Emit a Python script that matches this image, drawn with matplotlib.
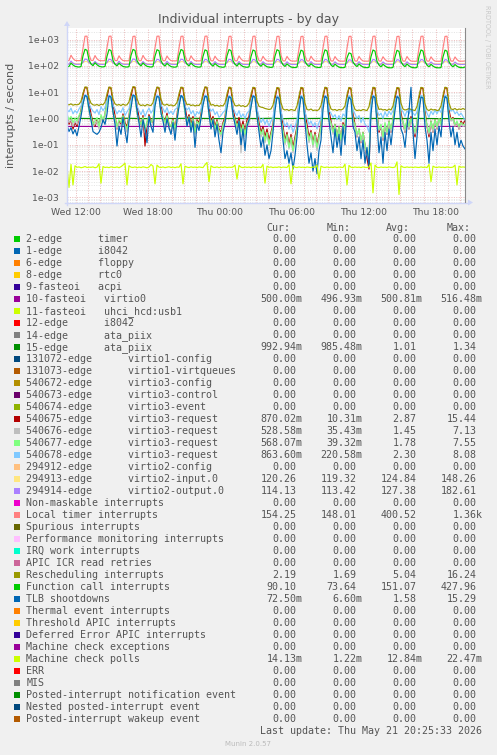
import numpy as np
import matplotlib
matplotlib.use("Agg")
import matplotlib.pyplot as plt
from matplotlib.patches import Rectangle, Polygon

# ---------------- data (10-minute samples from Wed 11:15) ----------------
STEP_H = 1.0 / 6.0          # 10 minutes in hours
HOUR_STEP = 1.0             # hourly samples for the flat series

LOCAL_TIMER = [
    160,158,252,190,161,158,157,160,470,1330,1340,270,
    162,159,245,185,160,157,156,158,500,1320,1350,260,
    160,157,240,183,158,156,155,157,450,1310,1340,255,
    158,156,248,186,158,156,155,157,480,1330,1345,265,
    158,155,236,182,157,155,154,156,470,1320,1340,250,
    157,155,240,183,157,155,154,156,490,1330,1350,260,
    157,154,232,180,156,154,153,155,460,1310,1335,255,
    156,154,238,182,156,154,153,155,480,1320,1345,262,
    156,153,230,178,155,153,152,154,470,1310,1330,250,
    155,153,228,176,154,152,151,154,460,1300,1330,245,
    154,152,232,178,154,152,151,153,480,1320,1340,258,
    154,152,225,175,153,151,150,152,470,1310,1330,250,
    153,151,228,176,153,151,150,152,490,1320,1345,255,
    153,151,222,174,152,150,149,151,460,1300,1330,248,
    152,150,226,175,152,150,149,151,480,1320,1340,252,
    152,150,220,172,151,150,149,151,470,1310,1335,250,
    152,150,218,172,151,150,150,154]

FUNC_CALL = [
    92,95,126,108,96,92,90,94,240,425,390,165,
    118,101,130,110,97,92,91,95,230,415,380,160,
    115,100,125,107,95,91,90,93,250,420,385,158,
    117,99,128,108,96,92,90,94,235,410,375,155,
    114,98,124,106,94,90,89,93,245,418,380,160,
    116,99,127,107,95,91,89,92,230,405,370,150,
    113,97,122,105,93,90,88,92,240,415,378,155,
    115,98,125,106,94,90,88,91,225,400,365,150,
    112,96,120,104,92,89,87,90,235,410,372,152,
    110,95,118,102,90,87,86,89,220,395,360,148,
    111,95,120,103,91,88,86,89,230,405,368,150,
    108,93,116,100,89,86,85,88,200,310,290,140,
    109,94,118,101,90,87,85,88,225,400,362,148,
    107,92,115,99,88,85,84,87,215,390,355,145,
    108,93,117,100,89,86,84,87,225,402,365,148,
    106,92,114,98,88,85,84,86,220,395,360,145,
    107,92,112,97,88,86,85,90]

VIRTIO2_OUT = [
    116,115,152,126,116,114,114,115,138,180,175,132,
    120,116,148,124,115,114,113,115,135,178,172,130,
    119,115,150,125,116,114,114,115,137,182,176,131,
    118,115,146,123,115,114,113,114,134,176,170,129,
    119,116,149,124,115,114,113,115,136,179,173,130,
    118,115,147,123,115,113,113,114,133,175,170,128,
    118,115,145,122,115,113,113,114,135,177,171,129,
    117,115,146,123,114,113,113,114,132,174,169,127,
    117,114,144,122,114,113,113,114,134,176,170,128,
    117,114,143,121,114,113,113,114,131,172,167,126,
    117,114,145,122,114,113,113,114,133,175,169,127,
    116,114,142,121,114,113,113,114,130,170,165,125,
    117,114,144,122,114,113,113,114,132,174,168,127,
    116,114,141,121,114,113,113,114,130,171,166,125,
    116,114,143,121,114,113,113,114,131,173,168,126,
    116,114,140,120,114,113,113,114,130,172,167,125,
    116,114,139,120,114,113,114,114]

VIRTIO2_IN = [
    121,120,137,126,121,120,120,121,131,147,145,127,
    123,121,135,125,121,120,119,120,130,146,144,126,
    122,120,136,125,121,120,120,121,131,148,146,127,
    122,120,134,124,120,119,119,120,129,145,143,126,
    122,121,135,125,121,120,119,120,130,146,144,126,
    121,120,134,124,120,119,119,120,129,145,143,125,
    121,120,133,124,120,119,119,120,130,146,144,126,
    121,120,134,124,120,119,119,120,129,144,142,125,
    121,120,133,123,120,119,119,120,129,145,143,125,
    121,120,132,123,120,119,119,120,128,144,142,124,
    121,120,133,123,120,119,119,120,129,145,143,125,
    121,120,132,123,120,119,119,120,128,143,141,124,
    121,120,133,123,120,119,119,120,129,145,143,125,
    121,120,131,122,120,119,119,120,128,144,142,124,
    121,120,132,123,120,119,119,120,129,145,143,125,
    121,120,131,122,120,119,119,120,128,144,142,124,
    121,120,130,122,120,119,120,120]

RESCHED = [
    3.4,3.3,3.6,3.2,3.4,3.3,3.5,4.5,9.0,15.8,15.5,6.0,
    3.8,3.3,3.2,3.4,3.1,3.5,3.3,4.2,8.5,15.6,15.2,5.5,
    3.6,3.2,3.4,3.1,3.5,3.2,3.3,4.3,9.2,16.2,15.8,5.8,
    3.5,3.1,3.3,3.0,3.4,3.2,3.1,4.0,8.8,15.7,15.0,5.4,
    3.4,3.2,3.5,3.1,3.3,3.0,3.2,4.1,8.6,15.4,15.1,5.2,
    3.3,3.5,3.1,3.3,3.0,3.2,3.1,4.0,9.0,15.9,15.4,5.0,
    3.2,3.4,3.0,3.2,2.9,3.1,3.0,3.9,8.4,15.5,15.0,4.8,
    3.1,3.0,3.3,2.9,3.1,2.8,3.0,3.8,8.2,15.3,14.8,4.6,
    2.9,2.7,2.6,2.4,2.3,2.2,2.3,3.2,7.5,15.0,14.5,4.0,
    2.3,2.1,2.2,2.0,2.2,2.1,2.0,3.0,7.2,15.2,14.6,3.8,
    2.2,2.1,2.3,2.0,2.1,2.0,2.2,3.1,7.6,15.4,14.8,3.9,
    2.3,2.1,2.2,2.0,2.2,2.1,2.3,3.0,7.8,15.1,14.5,3.6,
    2.2,2.0,2.1,2.0,2.2,2.1,2.0,2.8,7.0,15.3,14.9,3.7,
    2.2,2.3,2.1,2.2,2.0,2.3,2.1,3.0,7.4,15.0,14.6,3.8,
    2.3,2.1,2.2,2.4,2.2,2.1,2.0,2.9,7.3,15.2,14.7,3.6,
    2.2,2.0,2.3,2.1,2.2,2.0,2.1,3.0,7.5,15.4,14.8,3.9,
    2.3,2.2,2.4,2.1,2.3,2.2,2.4,2.19]

REQ_540675 = [
    1.2,0.6,0.9,0.4,0.7,0.5,1.0,2.0,8.0,15.0,14.5,4.0,
    1.5,0.7,0.5,0.9,0.6,1.1,0.8,1.4,6.5,15.2,14.0,3.5,
    1.3,0.4,0.8,0.6,1.5,0.7,0.5,1.2,7.0,15.4,14.8,3.0,
    1.1,0.5,1.3,0.09,0.6,1.4,0.8,0.7,7.5,15.0,14.2,3.8,
    1.0,0.8,1.6,0.6,0.5,1.0,0.4,1.3,6.8,15.1,14.0,3.2,
    0.9,1.4,0.6,1.2,0.3,0.9,0.7,1.5,7.2,15.3,14.5,2.8,
    0.8,1.2,0.5,0.9,0.4,0.3,0.7,1.1,6.5,15.0,13.8,2.5,
    1.0,0.6,1.1,0.4,0.8,0.3,0.9,1.2,6.0,14.8,13.5,2.2,
    0.7,0.3,0.5,0.2,0.4,0.15,0.3,0.6,5.5,14.5,13.0,2.0,
    0.5,0.15,0.3,0.1,0.25,0.08,0.2,0.5,5.0,14.8,13.2,1.8,
    0.6,0.2,0.35,0.12,0.3,0.1,0.25,0.6,6.0,15.0,13.5,2.0,
    0.8,0.3,0.6,0.2,0.5,0.15,0.7,0.4,6.5,14.6,13.0,1.5,
    0.6,0.2,0.4,0.12,0.3,0.1,0.03,0.012,4.0,14.8,13.8,1.8,
    0.3,0.5,0.15,0.6,0.25,0.8,0.3,0.9,5.5,14.5,13.2,1.6,
    0.7,0.3,0.9,0.4,1.2,0.5,0.2,0.6,5.0,14.8,13.5,1.9,
    0.5,0.2,0.8,0.3,0.9,0.4,1.0,0.6,6.0,15.0,13.8,2.1,
    0.9,1.1,0.5,0.7,0.4,0.8,0.6,0.87]

REQ_540676 = [
    1.0,0.7,0.9,0.5,0.8,0.6,1.0,1.5,4.0,7.1,6.5,1.8,
    0.9,0.5,0.6,0.8,0.4,1.1,0.7,1.2,3.6,6.9,6.2,1.6,
    0.8,0.4,0.7,0.5,1.0,0.5,0.3,0.9,3.8,7.0,6.3,1.5,
    0.7,0.5,0.9,0.3,0.6,1.0,0.5,0.7,4.0,6.8,6.1,1.7,
    0.9,0.5,1.1,0.4,0.35,0.7,0.3,0.8,3.6,6.7,6.0,1.5,
    0.6,1.0,0.4,0.8,0.25,0.6,0.5,1.0,3.9,6.9,6.3,1.3,
    0.5,0.8,0.3,0.6,0.3,0.2,0.5,0.7,3.4,6.6,5.9,1.2,
    0.7,0.4,0.6,0.05,0.5,0.2,0.5,0.6,3.2,6.8,6.0,1.1,
    0.4,0.2,0.3,0.12,0.25,0.1,0.2,0.4,2.9,6.5,5.7,0.9,
    0.3,0.1,0.2,0.07,0.15,0.05,0.12,0.3,2.7,6.7,5.8,0.8,
    0.35,0.12,0.25,0.08,0.2,0.06,0.15,0.4,3.1,6.9,6.0,0.9,
    0.6,0.25,0.5,0.15,0.4,0.12,0.5,0.3,3.4,6.7,5.8,0.8,
    0.5,0.2,0.35,0.12,0.25,0.08,0.04,0.035,2.7,6.9,6.2,1.0,
    0.35,0.5,0.15,0.6,0.25,0.7,0.3,0.8,3.2,6.6,5.9,0.9,
    0.7,0.3,0.8,0.4,0.9,0.5,0.25,0.6,3.0,6.8,6.1,1.1,
    0.5,0.25,0.7,0.3,0.8,0.4,0.9,0.5,3.3,7.0,6.3,1.2,
    0.8,0.9,0.5,0.7,0.4,0.6,0.5,0.53]

REQ_540677 = [
    1.5,0.9,1.2,0.7,1.0,0.8,1.3,1.8,4.5,7.5,6.8,2.0,
    1.2,0.6,0.8,1.1,0.5,1.4,0.9,1.5,4.0,7.3,6.5,1.8,
    1.0,0.5,0.9,0.7,1.3,0.6,0.4,1.1,4.2,7.4,6.6,1.6,
    0.9,0.6,1.1,0.4,0.8,1.2,0.7,0.9,4.4,7.2,6.4,1.9,
    1.1,0.7,1.3,0.6,0.5,0.9,0.4,1.0,4.0,7.0,6.3,1.7,
    0.8,1.2,0.5,1.0,0.3,0.8,0.6,1.2,4.3,7.3,6.6,1.5,
    0.7,1.0,0.4,0.8,0.35,0.25,0.6,0.9,3.8,7.0,6.2,1.4,
    0.9,0.5,0.8,0.3,0.6,0.25,0.7,0.8,3.6,7.1,6.3,1.3,
    0.5,0.25,0.4,0.15,0.3,0.1,0.25,0.5,3.2,6.8,6.0,1.0,
    0.35,0.12,0.25,0.08,0.2,0.06,0.15,0.4,3.0,7.0,6.1,0.9,
    0.4,0.15,0.3,0.1,0.25,0.08,0.2,0.5,3.5,7.2,6.3,1.0,
    0.7,0.3,0.6,0.2,0.5,0.15,0.6,0.4,3.8,7.0,6.1,0.9,
    0.6,0.25,0.4,0.15,0.3,0.1,0.05,0.04,3.0,7.2,6.5,1.1,
    0.4,0.6,0.2,0.7,0.3,0.8,0.4,0.9,3.6,6.9,6.2,1.0,
    0.8,0.4,0.9,0.5,1.0,0.6,0.3,0.7,3.4,7.1,6.4,1.2,
    0.6,0.3,0.8,0.4,0.9,0.5,1.0,0.6,3.7,7.4,6.6,1.3,
    0.9,1.0,0.6,0.8,0.5,0.7,0.6,0.57]

REQ_540678 = [
    2.2,1.8,2.5,1.5,2.0,1.6,2.3,3.0,5.5,8.0,7.5,3.5,
    2.5,1.9,1.6,2.2,1.4,2.8,2.0,2.6,5.0,7.8,7.2,3.2,
    2.3,1.5,2.0,1.7,2.6,1.3,1.8,2.4,5.2,8.0,7.4,3.0,
    2.0,1.4,2.2,1.2,1.8,2.5,1.6,2.1,5.5,7.9,7.0,3.3,
    2.4,1.7,2.6,1.5,1.9,1.4,2.2,2.5,5.0,7.6,7.1,3.0,
    2.1,2.6,1.5,2.0,1.2,1.8,1.5,2.3,5.3,7.8,7.3,2.8,
    1.9,2.3,1.4,1.8,1.1,1.3,1.7,2.0,5.0,7.5,6.9,2.6,
    1.7,1.3,2.0,1.1,1.5,1.0,1.6,1.9,4.8,7.7,7.0,2.4,
    1.2,0.7,1.0,0.6,0.9,0.5,0.8,1.1,4.2,7.4,6.6,2.0,
    0.9,0.5,0.7,0.4,0.6,0.3,0.5,0.9,4.0,7.5,6.8,1.8,
    1.0,0.6,0.8,0.5,0.7,0.4,0.7,1.0,4.5,7.6,6.9,2.0,
    1.6,1.1,1.4,0.9,1.3,0.8,1.5,1.2,5.0,7.5,6.7,2.2,
    1.5,1.0,1.3,0.7,1.1,0.6,0.5,0.3,3.8,7.7,7.0,2.1,
    1.3,1.6,1.0,1.8,1.2,1.9,1.4,2.0,4.6,7.4,6.8,2.3,
    1.8,1.2,2.0,1.5,2.2,1.6,1.3,1.8,4.4,7.6,7.0,2.5,
    1.6,1.1,1.9,1.4,2.1,1.5,2.2,1.7,4.8,7.8,7.1,2.6,
    1.9,2.2,1.5,1.8,1.3,1.6,1.2,0.86]

TLB = [
    0.55,0.32,0.45,0.26,0.38,0.22,0.5,1.2,3.5,7.5,6.8,2.4,
    0.9,0.32,0.28,0.25,0.3,0.45,0.9,0.6,1.5,7.2,6.5,1.8,
    0.6,0.09,0.5,0.25,1.1,0.35,0.12,0.8,2.5,7.8,7.0,2.0,
    0.7,0.2,0.9,0.4,0.12,1.2,0.5,0.3,3.0,6.9,6.5,1.6,
    0.8,0.3,1.0,0.45,0.25,0.7,0.15,0.9,2.8,7.5,6.2,2.2,
    0.5,1.1,0.3,0.8,0.08,0.6,0.35,1.0,3.2,7.0,6.6,1.5,
    0.4,0.9,0.2,0.6,0.15,0.05,0.3,0.7,2.5,6.8,6.0,1.4,
    0.6,0.25,0.8,0.1,0.4,0.06,0.5,0.9,2.7,7.2,6.4,1.2,
    0.3,0.08,0.2,0.04,0.1,0.03,0.06,0.3,2.0,6.5,5.8,0.9,
    0.15,0.03,0.06,0.02,0.05,0.012,0.04,0.2,1.8,6.8,5.5,0.7,
    0.1,0.02,0.05,0.01,0.03,0.008,0.06,0.15,2.2,7.0,6.0,0.8,
    0.2,0.05,0.4,0.08,0.25,0.04,0.5,0.1,2.5,6.5,5.2,0.5,
    0.3,0.06,0.2,0.03,0.15,0.02,0.08,0.015,1.5,7.0,6.2,0.6,
    0.05,0.2,0.02,0.3,0.06,0.4,0.1,0.5,2.0,6.8,5.8,0.4,
    0.25,0.08,0.5,2.0,15.3,0.3,0.03,0.2,1.8,6.5,6.0,0.5,
    0.15,0.02,0.3,0.06,0.4,0.1,0.5,0.2,2.2,6.8,5.9,0.8,
    0.2,0.5,0.1,0.3,0.08,0.15,0.09,0.07]

MC_POLLS = [
    0.015,0.0024,0.018,0.003,0.016,0.014,0.0145,0.0135,0.014,0.015,0.0138,0.0142,
    0.014,0.0145,0.0135,0.0142,0.019,0.0035,0.015,0.0138,0.0142,0.0136,0.0146,0.014,
    0.0138,0.0145,0.0135,0.0148,0.017,0.02,0.003,0.016,0.0142,0.0138,0.0145,0.0135,
    0.0143,0.0137,0.0146,0.014,0.0135,0.0142,0.018,0.0155,0.0033,0.017,0.0142,0.0138,
    0.0145,0.0136,0.0142,0.0147,0.0138,0.0143,0.0136,0.0144,0.014,0.019,0.0033,0.0155,
    0.0142,0.0137,0.0146,0.0139,0.0143,0.0136,0.0145,0.014,0.0137,0.0175,0.0215,0.004,
    0.016,0.0141,0.0138,0.0145,0.0136,0.0143,0.0139,0.0146,0.0137,0.0142,0.0139,0.0144,
    0.017,0.005,0.0165,0.0141,0.0137,0.0144,0.0139,0.0143,0.0136,0.0145,0.014,0.0138,
    0.0143,0.0137,0.018,0.0035,0.0155,0.014,0.0145,0.0137,0.0142,0.0139,0.0146,0.0136,
    0.0143,0.014,0.0138,0.0175,0.0033,0.016,0.0141,0.0137,0.0145,0.0139,0.0142,0.0136,
    0.0144,0.014,0.0137,0.0145,0.0139,0.017,0.005,0.0155,0.0142,0.0138,0.0144,0.0137,
    0.0142,0.0139,0.0145,0.0137,0.0143,0.014,0.0138,0.0185,0.003,0.0165,0.0141,0.0137,
    0.0144,0.0139,0.0142,0.0137,0.0145,0.014,0.0138,0.0143,0.0205,0.0015,0.017,0.014,
    0.0137,0.0144,0.0139,0.0142,0.0138,0.0145,0.014,0.0137,0.0143,0.0225,0.0013,0.016,
    0.0142,0.0138,0.0145,0.0139,0.0143,0.0137,0.0144,0.014,0.0138,0.0145,0.0139,0.0143,
    0.0137,0.018,0.004,0.0155,0.0141,0.0138,0.0145,0.0139,0.0142,0.0137,0.0144,0.014,
    0.0138,0.0143,0.017,0.003,0.0155,0.0141,0.0145,0.0141]

# hourly samples of the nearly flat series
VIRTIO0 = [0.500,0.501,0.499,0.500,0.502,0.500,0.499,0.501,0.500,0.498,0.500,0.501,
           0.500,0.499,0.500,0.503,0.500,0.499,0.501,0.500,0.500,0.499,0.501,0.500,
           0.502,0.500,0.499,0.500,0.501,0.500,0.499,0.500,0.501,0.500,0.500]
ATA_15 = [1.00,1.01,1.00,0.99,1.01,1.02,1.00,0.99,1.01,1.00,1.02,1.01,1.00,0.99,
          1.01,1.00,1.00,1.02,0.99,1.01,1.00,1.01,0.99,1.00,1.02,1.00,1.01,0.99,
          1.00,1.01,1.00,0.99,1.00,0.99,1.00]

X_TICK_HOURS = [0.75, 6.75, 12.75, 18.75, 24.75, 30.75]
X_TICK_LABELS = ["Wed 12:00", "Wed 18:00", "Thu 00:00", "Thu 06:00", "Thu 12:00", "Thu 18:00"]
Y_TICKS = [1e-3, 1e-2, 1e-1, 1e0, 1e1, 1e2, 1e3]
Y_TICK_LABELS = ["1e-03", "1e-02", "1e-01", "1e+00", "1e+01", "1e+02", "1e+03"]

# legend table
LEG_LABELS = [
    "2-edge      timer", "1-edge      i8042", "6-edge      floppy", "8-edge      rtc0",
    "9-fasteoi   acpi", "10-fasteoi   virtio0", "11-fasteoi   uhci_hcd:usb1",
    "12-edge      i8042", "14-edge      ata_piix", "15-edge      ata_piix",
    "131072-edge      virtio1-config", "131073-edge      virtio1-virtqueues",
    "540672-edge      virtio3-config", "540673-edge      virtio3-control",
    "540674-edge      virtio3-event", "540675-edge      virtio3-request",
    "540676-edge      virtio3-request", "540677-edge      virtio3-request",
    "540678-edge      virtio3-request", "294912-edge      virtio2-config",
    "294913-edge      virtio2-input.0", "294914-edge      virtio2-output.0",
    "Non-maskable interrupts", "Local timer interrupts", "Spurious interrupts",
    "Performance monitoring interrupts", "IRQ work interrupts", "APIC ICR read retries",
    "Rescheduling interrupts", "Function call interrupts", "TLB shootdowns",
    "Thermal event interrupts", "Threshold APIC interrupts", "Deferred Error APIC interrupts",
    "Machine check exceptions", "Machine check polls", "ERR", "MIS",
    "Posted-interrupt notification event", "Nested posted-interrupt event",
    "Posted-interrupt wakeup event"]
LEG_COLORS = [
    "#00CC00", "#0066B3", "#FF8000", "#FFCC00", "#330099", "#990099", "#CCFF00",
    "#FF0000", "#808080", "#008F00", "#00487D", "#B35A00", "#B38F00", "#6B006B",
    "#8FB300", "#B30000", "#BEBEBE", "#80FF80", "#80C9FF", "#FFC080", "#FFE680",
    "#AA80FF", "#EE00CC", "#FF8080", "#666600", "#FFBFFF", "#00FFCC", "#CC6699",
    "#999900", "#00CC00", "#0066B3", "#FF8000", "#FFCC00", "#330099", "#990099",
    "#CCFF00", "#FF0000", "#808080", "#008F00", "#00487D", "#B35A00"]
CUR = [0,0,0,0,0,0.5,0,0,0,0.99294,0,0,0,0,0,0.87002,0.52858,0.56807,0.8636,0,120.26,114.13,
       0,154.25,0,0,0,0,2.19,90.10,0.0725,0,0,0,0,0.01413,0,0,0,0,0]
MIN = [0,0,0,0,0,0.49693,0,0,0,0.98548,0,0,0,0,0,0.01031,0.03543,0.03932,0.22058,0,119.32,113.42,
       0,148.01,0,0,0,0,1.69,73.64,0.0066,0,0,0,0,0.00122,0,0,0,0,0]
AVG = [0,0,0,0,0,0.50081,0,0,0,1.01,0,0,0,0,0,2.87,1.45,1.78,2.30,0,124.84,127.38,
       0,400.52,0,0,0,0,5.04,151.07,1.58,0,0,0,0,0.01284,0,0,0,0,0]
MAX = [0,0,0,0,0,0.51648,0,0,0,1.34,0,0,0,0,0,15.44,7.13,7.55,8.08,0,148.26,182.61,
       0,1360,0,0,0,0,16.24,427.96,15.29,0,0,0,0,0.02247,0,0,0,0,0]

# ---------------- figure ----------------
W, H = 497, 755
fig = plt.figure(figsize=(W / 100, H / 100), dpi=100, facecolor="#F0F0F0")
L, R, T, B = 67, 465, 28, 203
ax = fig.add_axes([L / W, 1 - B / H, (R - L) / W, (B - T) / H])
ax.set_facecolor("white")
ax.set_yscale("log")
XMAX = (R - L) / 12.0
ax.set_xlim(0, XMAX)
ax.set_ylim(10 ** -3.209, 10 ** 3.437)
for s in ax.spines.values():
    s.set_visible(False)

TXT = "#555555"
DOT = (0, (1, 1.4))
# grid
for d in range(-4, 4):
    for m in range(2, 10):
        ax.axhline(m * 10.0 ** d, color="#E4E4E4", lw=0.72, ls=DOT, zorder=0)
for yv in Y_TICKS:
    ax.axhline(yv, color="#EBBDBD", lw=0.72, ls=DOT, zorder=0.5)
for h in np.arange(0.75, XMAX, 1.0):
    ax.axvline(h, color="#EBBDBD", lw=0.72, ls=DOT, zorder=0.5)

ax.set_xticks(X_TICK_HOURS)
ax.set_xticklabels(X_TICK_LABELS)
ax.set_yticks(Y_TICKS)
ax.set_yticklabels(Y_TICK_LABELS)
ax.minorticks_off()
ax.tick_params(axis="both", length=0, labelsize=6.7, colors=TXT)
ax.tick_params(axis="y", pad=5.8)
ax.tick_params(axis="x", pad=3.4)

LW = 0.85
def t10(a):
    return np.arange(len(a)) * STEP_H
def th(a):
    return np.arange(len(a)) * HOUR_STEP

series = [
    (th(VIRTIO0), VIRTIO0, "#990099"),
    (th(ATA_15), ATA_15, "#008F00"),
    (t10(REQ_540675), REQ_540675, "#B30000"),
    (t10(REQ_540676), REQ_540676, "#BEBEBE"),
    (t10(REQ_540677), REQ_540677, "#80FF80"),
    (t10(REQ_540678), REQ_540678, "#80C9FF"),
    (t10(VIRTIO2_IN), VIRTIO2_IN, "#FFE680"),
    (t10(VIRTIO2_OUT), VIRTIO2_OUT, "#AA80FF"),
    (t10(LOCAL_TIMER), LOCAL_TIMER, "#FF8080"),
    (t10(RESCHED), RESCHED, "#999900"),
    (t10(FUNC_CALL), FUNC_CALL, "#00CC00"),
    (t10(TLB), TLB, "#0066B3"),
    (t10(MC_POLLS), MC_POLLS, "#CCFF00"),
]
for i, (x, y, c) in enumerate(series):
    ax.plot(x, y, color=c, lw=LW, zorder=2 + i * 0.01, solid_joinstyle="round")

# ---------------- overlay in pixel coordinates ----------------
ov = fig.add_axes([0, 0, 1, 1], facecolor="none")
ov.set_xlim(0, W)
ov.set_ylim(H, 0)
ov.axis("off")

AXC = "#CFD6F8"
ov.plot([L, L], [B + 2, T - 2], color=AXC, lw=1.0)
ov.plot([L - 2, R + 4], [B - 0.5, B - 0.5], color=AXC, lw=1.0)
ov.add_patch(Polygon([[L - 3, T - 2], [L + 3, T - 2], [L, T - 7]], closed=True, color=AXC, lw=0))
ov.add_patch(Polygon([[R + 3, B - 3.5], [R + 3, B + 2.5], [R + 8, B - 0.5]], closed=True, color=AXC, lw=0))
ov.plot([R - 0.5, R - 0.5], [T, B - 1], color="#8a8a8a", lw=0.8)

ov.text(248, 20, "Individual interrupts - by day", ha="center", va="center",
        fontsize=9, color=TXT)
ov.text(10.7, 115.5, "interrupts / second", rotation=90, ha="center", va="center",
        fontsize=8, color=TXT)
ov.text(487.5, 5, "RRDTOOL / TOBI OETIKER", rotation=270, ha="center", va="top",
        fontsize=4.7, color="#C8C8C8")

MONO = "DejaVu Sans Mono"
FS = 7.18
CW = 6.0
X0 = 26.3
ROW0, ROWH = 239.3, 12.0

for j, hname in enumerate(["Cur:", "Min:", "Avg:", "Max:"]):
    ov.text(X0 + (40 + 10 * j) * CW, 228.3, hname, ha="left", va="center",
            family=MONO, fontsize=FS, color=TXT)

def fmt(v):
    if v == 0:
        return "0.00"
    if abs(v) >= 1000:
        return "%.2fk" % (v / 1000.0)
    if abs(v) < 1:
        return "%.2fm" % (v * 1000.0)
    return "%.2f" % v

for i, lab in enumerate(LEG_LABELS):
    y = ROW0 + ROWH * i
    ov.add_patch(Rectangle((14, y - 3), 6, 6, color=LEG_COLORS[i], lw=0))
    ov.text(X0, y, lab, ha="left", va="center", family=MONO, fontsize=FS, color=TXT)
    for j, arr in enumerate([CUR, MIN, AVG, MAX]):
        s = fmt(arr[i])
        col_end = X0 + (46 + 10 * j) * CW
        xr = col_end if s[-1] in "mk" else col_end - CW
        ov.text(xr, y, s, ha="right", va="center", family=MONO, fontsize=FS, color=TXT)

ov.text(X0 + 76 * CW, 731.3, "Last update: Thu May 21 20:25:33 2026", ha="right",
        va="center", family=MONO, fontsize=FS, color=TXT)
ov.text(248, 744, "Munin 2.0.57", ha="center", va="center", fontsize=5, color="#BBBBBB")

fig.savefig("out.png", dpi=100, facecolor=fig.get_facecolor())
